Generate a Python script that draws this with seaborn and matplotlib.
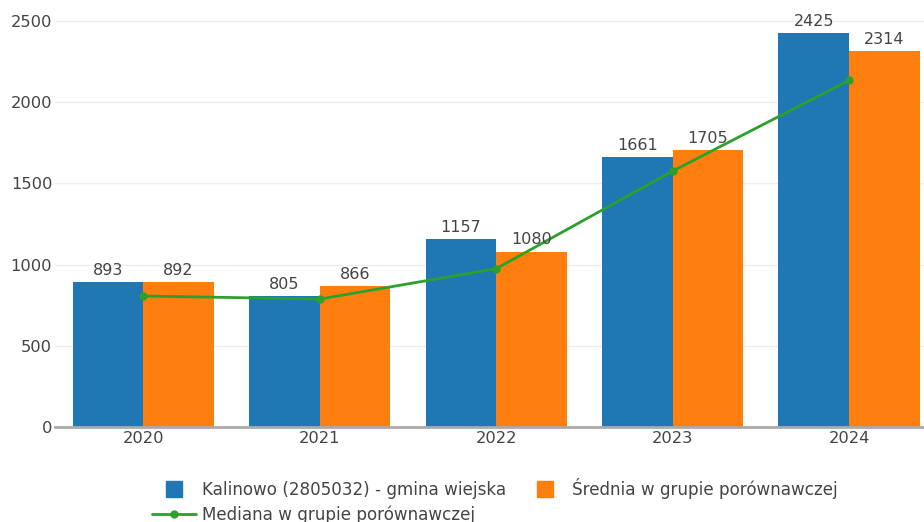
import numpy as np
import pandas as pd
import matplotlib
matplotlib.use("Agg")
import matplotlib.pyplot as plt
from matplotlib.lines import Line2D
import seaborn as sns

# Dane
lata = ["2020", "2021", "2022", "2023", "2024"]
kalinowo = [893, 805, 1157, 1661, 2425]
srednia = [892, 866, 1080, 1705, 2314]
mediana = [807, 788, 975, 1576, 2135]

nazwa_gminy = "Kalinowo (2805032) - gmina wiejska"
nazwa_sredniej = "Średnia w grupie porównawczej"
nazwa_mediany = "Mediana w grupie porównawczej"

niebieski = "#1f77b4"
pomaranczowy = "#ff7f0e"
zielony = "#2ca02c"
szary_tekst = "#444444"

sns.set_style("white")
plt.rcParams["font.family"] = ["DejaVu Sans"]

df = pd.DataFrame({
    "rok": lata * 2,
    "wartosc": kalinowo + srednia,
    "seria": [nazwa_gminy] * len(lata) + [nazwa_sredniej] * len(lata),
})

fig = plt.figure(figsize=(9.24, 5.22), dpi=100)
ax = fig.add_axes([0.0595, 0.182, 0.9405, 0.818])

sns.barplot(data=df, x="rok", y="wartosc", hue="seria",
            palette=[niebieski, pomaranczowy], width=0.8, gap=0,
            saturation=1, linewidth=0, ax=ax, legend=False)

for kont in ax.containers:
    ax.bar_label(kont, fmt="%d", padding=3, fontsize=11.5, color=szary_tekst)

# linia mediany
sns.lineplot(x=np.arange(len(lata)), y=mediana, color=zielony, marker="o",
             markersize=6, markeredgewidth=0, linewidth=2, ax=ax)

ax.set_xlim(-0.5, 4.425)
ax.set_ylim(0, 2630)
ax.set_yticks([0, 500, 1000, 1500, 2000, 2500])
ax.yaxis.grid(True, color="#eeeeee", linewidth=1)
ax.set_axisbelow(True)
ax.set_xlabel("")
ax.set_ylabel("")
for s in ["top", "right", "left"]:
    ax.spines[s].set_visible(False)
ax.spines["bottom"].set_color("#aaaaaa")
ax.spines["bottom"].set_linewidth(2)
ax.tick_params(axis="both", length=0, labelsize=11.7, labelcolor=szary_tekst)
ax.tick_params(axis="x", pad=3)
ax.tick_params(axis="y", pad=2)

uchwyty = [
    Line2D([], [], color=niebieski, marker="s", markersize=11.5, linestyle="none"),
    Line2D([], [], color=zielony, marker="o", markersize=5, linewidth=2),
    Line2D([], [], color=pomaranczowy, marker="s", markersize=11.5, linestyle="none"),
]
fig.legend(uchwyty, [nazwa_gminy, nazwa_mediany, nazwa_sredniej],
           loc="upper center", bbox_to_anchor=(0.536, 0.1), ncol=2,
           frameon=False, fontsize=12.1, labelcolor=szary_tekst,
           handlelength=2.6, columnspacing=1.0, labelspacing=0.35,
           handletextpad=0.35, borderpad=0)

fig.savefig("out.png", dpi=100)
